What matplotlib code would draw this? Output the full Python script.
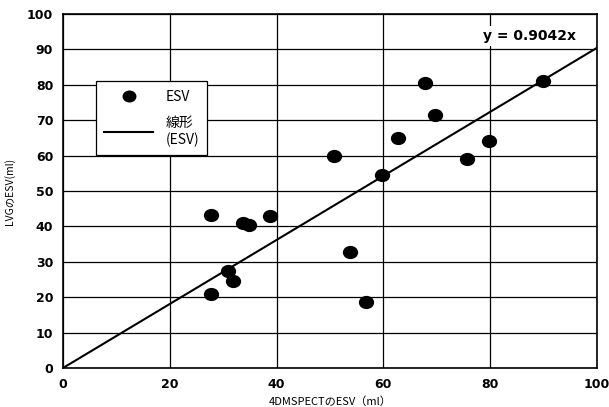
import numpy as np
from matplotlib import pyplot as plt
from matplotlib.lines import Line2D
from matplotlib.path import Path

plt.rcParams['font.family'] = ['Noto Sans CJK JP', 'DejaVu Sans']

# data
spect_esv = [27.7, 27.7, 30.9, 31.8, 33.7, 34.8, 38.8, 50.7, 53.7, 56.7,
             59.7, 62.7, 67.8, 69.7, 75.7, 79.8, 89.9]
lvg_esv = [43.3, 21.0, 27.4, 24.6, 41.0, 40.4, 42.9, 59.9, 32.8, 18.6,
           54.5, 65.0, 80.5, 71.5, 59.0, 64.1, 81.1]
slope = 0.9042
xticks = [0, 20, 40, 60, 80, 100]
yticks = list(range(0, 101, 10))

# slightly flattened circle like the original markers
circ = Path.unit_circle()
ell = Path(circ.vertices * [1.0, 0.85], circ.codes)

fig = plt.figure(figsize=(6.09, 4.07), dpi=100)
ax = fig.add_axes([0.1034, 0.0958, 0.8766, 0.8698])

xl = np.array([0, 100])
ax.plot(xl, slope * xl, color='black', lw=1.5, zorder=3)
ax.scatter(spect_esv, lvg_esv, s=100, color='black', marker=ell, zorder=4)

ax.set_xlim(0, 100)
ax.set_ylim(0, 100)
ax.set_xticks(xticks)
ax.set_yticks(yticks)
ax.grid(True, color='black', lw=0.9)
ax.set_axisbelow(True)
for s in ax.spines.values():
    s.set_linewidth(1.2)
ax.tick_params(length=0, pad=7)
for t in ax.get_xticklabels() + ax.get_yticklabels():
    t.set_fontweight('heavy')
    t.set_fontsize(9)
    t.set_family('DejaVu Sans')

ax.set_xlabel('4DMSPECTのESV（ml）', fontsize=8, labelpad=4)
ax.set_ylabel('LVGのESV(ml)', fontsize=7.5)
ax.yaxis.set_label_coords(-0.09, 0.5)

ax.text(0.874, 0.938, 'y = 0.9042x', transform=ax.transAxes, fontsize=10,
        fontweight='bold', family='DejaVu Sans', ha='center', va='center',
        bbox=dict(facecolor='white', edgecolor='none', pad=2), zorder=5)

handles = [Line2D([], [], marker=ell, color='black', ls='none', markersize=9),
           Line2D([], [], color='black', lw=1.5)]
leg = ax.legend(handles, ['ESV', '線形\n(ESV)'], loc='upper left',
                bbox_to_anchor=(0.062, 0.81), fontsize=10, frameon=True,
                fancybox=False, edgecolor='black', framealpha=1,
                handlelength=3.5, handletextpad=0.9, labelspacing=0.9,
                borderpad=0.6, borderaxespad=0)
leg.get_frame().set_linewidth(0.9)

plt.savefig('out.png')
